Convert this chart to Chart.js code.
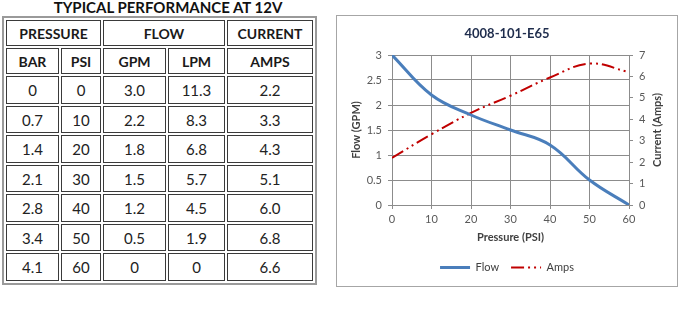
<!DOCTYPE html>
<html>
<head>
<meta charset="utf-8">
<script src="https://cdn.jsdelivr.net/npm/chart.js@4.4.1/dist/chart.umd.min.js"></script>
<style>
html,body{margin:0;padding:0;background:#fff;width:679px;height:311px;overflow:hidden;font-family:Lato,"Open Sans",sans-serif}
#ttl{position:absolute;left:0;top:-1px;width:336px;text-align:center;font-weight:bold;font-size:15px;line-height:17px;color:#111}
#perfTable{position:absolute;left:2px;top:16px;width:315px;height:269px;border-collapse:separate;border-spacing:2px;border:2px solid #9a9a9a;table-layout:fixed;color:#222}
#perfTable td{border:1px solid #3a3a3a;text-align:center;padding:0;font-size:15px}
#perfTable tr.hd td{font-size:14px;font-weight:bold;color:#1a1a1a}
#box{position:absolute;left:336px;top:15px;width:340px;height:270px;border:1px solid #a6a6a6}
</style>
</head>
<body>
<div id="ttl">TYPICAL PERFORMANCE AT 12V</div>
<table id="perfTable">
  <colgroup><col style="width:53px"><col style="width:40px"><col style="width:63px"><col style="width:57px"><col style="width:86px"></colgroup>
  <tbody id="tb">
    <tr class="hd"><td colspan="2">PRESSURE</td><td colspan="2">FLOW</td><td>CURRENT</td></tr>
    <tr class="hd"><td>BAR</td><td>PSI</td><td>GPM</td><td>LPM</td><td>AMPS</td></tr>
  </tbody>
</table>
<div id="box"><canvas id="perf" width="340" height="270"></canvas></div>
<script>
// table values
const bar = ['0', '0.7', '1.4', '2.1', '2.8', '3.4', '4.1']
const psi = ['0', '10', '20', '30', '40', '50', '60']
const gpm = ['3.0', '2.2', '1.8', '1.5', '1.2', '0.5', '0']
const lpm = ['11.3', '8.3', '6.8', '5.7', '4.5', '1.9', '0']
const amps = ['2.2', '3.3', '4.3', '5.1', '6.0', '6.8', '6.6']

// chart values
const chartPsi = [0, 10, 20, 30, 40, 50, 60]
const chartFlow = [3.0, 2.2, 1.8, 1.5, 1.2, 0.5, 0]
const chartAmps = [2.2, 3.3, 4.3, 5.1, 5.95, 6.6, 6.2]

const tb = document.getElementById('tb')
for (let i = 0; i < bar.length; i++) {
    const tr = document.createElement('tr')
    for (const v of [bar[i], psi[i], gpm[i], lpm[i], amps[i]]) {
        const td = document.createElement('td')
        td.textContent = v
        tr.appendChild(td)
    }
    tb.appendChild(tr)
}

const font = 'Lato'
const gridCol = '#8c8c8c'
const tickCol = '#595959'
const titleCol = '#404040'

function toPts(ys) {
    return chartPsi.map((x, i) => ({ x: x, y: ys[i] }))
}

// right axis title reads bottom-to-top like the left one
const rightTitle = {
    id: 'rightTitle',
    afterDraw(chart) {
        const s = chart.scales.y1
        const c = chart.ctx
        c.save()
        c.translate(s.right - 20, (s.top + s.bottom) / 2)
        c.rotate(-Math.PI / 2)
        c.font = 'bold 11px ' + font
        c.fillStyle = titleCol
        c.textAlign = 'center'
        c.textBaseline = 'middle'
        c.fillText('Current (Amps)', 0, 0)
        c.restore()
    }
}

new Chart(document.getElementById('perf'), {
    type: 'line',
    data: {
        datasets: [
            {
                label: 'Flow',
                data: toPts(chartFlow),
                borderColor: '#4a7ebb',
                backgroundColor: '#4a7ebb',
                borderWidth: 3,
                tension: 0.4,
                pointRadius: 0,
                yAxisID: 'y'
            },
            {
                label: 'Amps',
                data: toPts(chartAmps),
                borderColor: '#c00000',
                backgroundColor: '#c00000',
                borderWidth: 2,
                borderDash: [13, 4, 2, 4, 2, 4],
                tension: 0.4,
                pointRadius: 0,
                yAxisID: 'y1'
            }
        ]
    },
    options: {
        responsive: false,
        animation: false,
        devicePixelRatio: 1,
        layout: { padding: { left: 0, right: 0, top: 0, bottom: 3 } },
        plugins: {
            title: {
                display: true,
                text: '4008-101-E65',
                color: '#1f2d4d',
                font: { family: font, size: 13, weight: 'bold' },
                padding: { top: 10, bottom: 13.4 }
            },
            legend: {
                position: 'bottom',
                labels: {
                    usePointStyle: true,
                    pointStyleWidth: 30,
                    boxHeight: 6,
                    padding: 12,
                    color: titleCol,
                    font: { family: font, size: 11 },
                    generateLabels(chart) {
                        const items = Chart.defaults.plugins.legend.labels.generateLabels(chart)
                        items.forEach(it => {
                            const ds = chart.data.datasets[it.datasetIndex]
                            it.pointStyle = 'line'
                            it.strokeStyle = ds.borderColor
                            it.fillStyle = ds.borderColor
                            it.lineWidth = ds.borderWidth
                            it.lineDash = ds.borderDash || []
                        })
                        return items
                    }
                }
            },
            tooltip: { enabled: false }
        },
        scales: {
            x: {
                type: 'linear',
                min: 0,
                max: 60,
                ticks: { stepSize: 10, padding: 4, color: tickCol, font: { family: font, size: 11 } },
                grid: { color: gridCol, tickLength: 4 },
                border: { color: gridCol },
                title: {
                    display: true,
                    text: 'Pressure (PSI)',
                    color: titleCol,
                    font: { family: font, size: 11, weight: 'bold' },
                    padding: { top: 0, bottom: 6.4 }
                },
                afterFit(s) { s.height = 45 }
            },
            y: {
                position: 'left',
                min: 0,
                max: 3,
                ticks: { stepSize: 0.5, padding: 6, color: tickCol, font: { family: font, size: 11 }, callback: v => String(v) },
                grid: { color: gridCol, tickLength: 4 },
                border: { color: gridCol },
                title: {
                    display: true,
                    text: 'Flow (GPM)',
                    color: titleCol,
                    font: { family: font, size: 11, weight: 'bold' },
                    padding: { top: 12.4, bottom: 0 }
                },
                afterFit(s) { s.width = 55 }
            },
            y1: {
                position: 'right',
                min: 0,
                max: 7,
                ticks: { stepSize: 1, padding: 6, color: tickCol, font: { family: font, size: 11 } },
                grid: { drawOnChartArea: false, color: gridCol, tickLength: 4 },
                border: { color: gridCol },
                afterFit(s) { s.width = 48 }
            }
        }
    },
    plugins: [rightTitle]
})
</script>
</body>
</html>
